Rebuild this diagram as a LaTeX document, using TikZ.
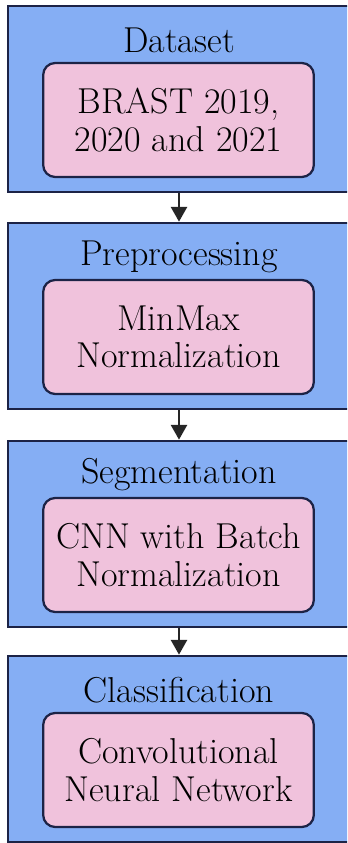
\documentclass[tikz,border=0pt]{standalone}
\usetikzlibrary{arrows.meta, positioning}
\definecolor{stageblue}{HTML}{85AEF4}
\definecolor{stagepink}{HTML}{F0C2DC}
\definecolor{stageline}{HTML}{1C2346}

\begin{document}
\begin{tikzpicture}[x=0.75pt, y=0.75pt,
  stage/.style={draw=stageline, fill=stageblue, line width=2pt, inner sep=0pt,
    minimum width=256.5pt, minimum height=139.5pt},
  task/.style={draw=stageline, fill=stagepink, line width=1.7pt, rounded corners=9pt,
    minimum width=203pt, minimum height=85.5pt, align=center, inner sep=2pt,
    font=\fontsize{27}{28}\selectfont},
  title/.style={font=\fontsize{27}{28}\selectfont},
  flow/.style={-{Triangle[length=11pt, width=12pt]}, line width=1.6pt, draw=black!85}]
\useasboundingbox (0,0) rectangle (347,843);
\clip (0,0) rectangle (347,843);
% outer stages
\node[stage] (dataset) at (179,744) {};
\node[stage] (prep)    at (179,527) {};
\node[stage] (seg)     at (179,309) {};
\node[stage] (cls)     at (179,94) {};
% stage titles
\node[title] (datasetT) at (179,803) {Dataset};
\node[title] (prepT)    at (179,586) {Preprocessing};
\node[title] (segT)     at (179,368) {Segmentation};
\node[title] (clsT)     at (179,153) {Classification};
% inner boxes
\node[task] (brats)  at (178.5,723) {BRAST 2019,\\2020 and 2021};
\node[task] (minmax) at (178.5,506) {MinMax\\Normalization};
\node[task] (cnnbn)  at (178.5,288) {CNN with Batch\\Normalization};
\node[task] (cnn)    at (178.5,73)  {Convolutional\\Neural Network};
% flow
\draw[flow] (dataset.south) -- (prep.north);
\draw[flow] (prep.south) -- (seg.north);
\draw[flow] (seg.south) -- (cls.north);
\end{tikzpicture}
\end{document}
